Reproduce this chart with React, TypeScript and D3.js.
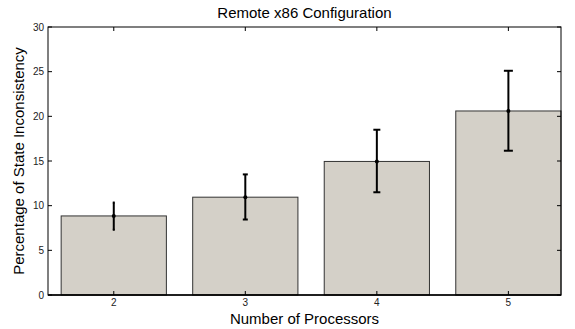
import React from "react";
import * as d3 from "d3";

const categories = [2, 3, 4, 5];
const means = [8.85, 10.95, 14.95, 20.6];
const errLow = [7.3, 8.45, 11.5, 16.15];
const errHigh = [10.35, 13.5, 18.5, 25.1];
const capWidths = [2, 5, 7, 9];
const yTicks = [0, 5, 10, 15, 20, 25, 30];

const W = 575, H = 329;
const left = 48, right = 561, top = 27, bottom = 295;

export default function App() {
  const x = d3.scaleLinear().domain([1.5, 5.4]).range([left, right]);
  const y = d3.scaleLinear().domain([0, 30]).range([bottom, top]);
  const bw = x(2.4) - x(1.6);
  const font = "Liberation Sans, Arial, sans-serif";
  return (
    <svg width={W} height={H} style={{ position: "absolute", left: 0, top: 0, background: "#fff" }} fontFamily={font}>
      {categories.map((c, i) => (
        <rect key={c} x={x(c) - bw / 2} y={y(means[i])} width={bw} height={y(0) - y(means[i])}
          fill="#d4d0c8" stroke="#333" strokeWidth={1} />
      ))}
      <rect x={left} y={top} width={right - left} height={bottom - top} fill="none" stroke="#000" strokeWidth={1} />
      {yTicks.map(t => (
        <g key={t}>
          <line x1={left} x2={left + 4} y1={y(t)} y2={y(t)} stroke="#000" />
          <line x1={right} x2={right - 4} y1={y(t)} y2={y(t)} stroke="#000" />
          <text x={left - 4} y={y(t)} dy="0.35em" textAnchor="end" fontSize={10} fill="#222">{t}</text>
        </g>
      ))}
      {categories.map(c => (
        <g key={c}>
          <line x1={x(c)} x2={x(c)} y1={bottom} y2={bottom - 4} stroke="#000" />
          <line x1={x(c)} x2={x(c)} y1={top} y2={top + 4} stroke="#000" />
          <text x={x(c)} y={bottom + 11} textAnchor="middle" fontSize={10} fill="#222">{c}</text>
        </g>
      ))}
      <line x1={left} x2={right} y1={bottom} y2={bottom} stroke="#000" strokeWidth={1.5} />
      {categories.map((c, i) => (
        <g key={"e" + c} stroke="#000" strokeWidth={2}>
          <line x1={x(c)} x2={x(c)} y1={y(errLow[i])} y2={y(errHigh[i])} />
          <line x1={x(c) - capWidths[i] / 2} x2={x(c) + capWidths[i] / 2} y1={y(errLow[i])} y2={y(errLow[i])} />
          <line x1={x(c) - capWidths[i] / 2} x2={x(c) + capWidths[i] / 2} y1={y(errHigh[i])} y2={y(errHigh[i])} />
          <circle cx={x(c)} cy={y(means[i])} r={2} fill="#000" stroke="none" />
        </g>
      ))}
      <text x={(left + right) / 2} y={18} textAnchor="middle" fontSize={15} fill="#000">Remote x86 Configuration</text>
      <text x={(left + right) / 2} y={324} textAnchor="middle" fontSize={15} fill="#000">Number of Processors</text>
      <text transform={`translate(24, ${(top + bottom) / 2}) rotate(-90)`} textAnchor="middle" fontSize={15} fill="#000">Percentage of State Inconsistency</text>
    </svg>
  );
}
